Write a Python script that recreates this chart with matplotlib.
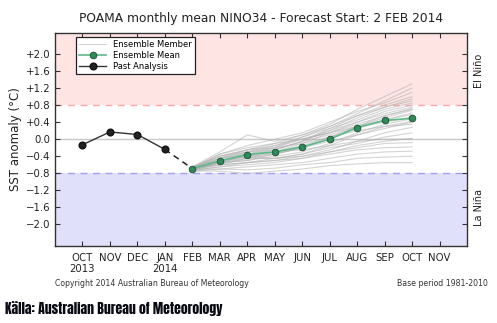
import matplotlib
matplotlib.use("Agg")
import matplotlib.pyplot as plt
from matplotlib.transforms import blended_transform_factory

# Month axis: Oct 2013 .. Nov 2014
month_labels = ["OCT\n2013", "NOV", "DEC", "JAN\n2014", "FEB", "MAR", "APR",
                "MAY", "JUN", "JUL", "AUG", "SEP", "OCT", "NOV"]
month_pos = list(range(len(month_labels)))

# Observed NINO34 anomalies (Oct 2013 - Jan 2014)
past_months = [0, 1, 2, 3]
past_values = [-0.13, 0.17, 0.11, -0.24]

# Forecast months (Feb - Oct 2014)
fc_months = [4, 5, 6, 7, 8, 9, 10, 11, 12]
ens_mean = [-0.69, -0.51, -0.36, -0.30, -0.18, 0.00, 0.27, 0.44, 0.49]

# Individual ensemble members
members = [
    [-0.66, -0.40, -0.25, -0.10, 0.10, 0.35, 0.70, 1.00, 1.30],
    [-0.70, -0.45, -0.30, -0.20, 0.05, 0.30, 0.60, 0.90, 1.20],
    [-0.68, -0.35, -0.15, 0.00, 0.15, 0.40, 0.65, 0.85, 1.10],
    [-0.72, -0.50, -0.40, -0.25, -0.05, 0.25, 0.55, 0.80, 1.00],
    [-0.65, -0.30, 0.10, -0.05, 0.10, 0.30, 0.55, 0.75, 0.95],
    [-0.70, -0.55, -0.35, -0.20, 0.00, 0.20, 0.50, 0.75, 0.90],
    [-0.68, -0.45, -0.25, -0.15, 0.05, 0.25, 0.45, 0.70, 0.85],
    [-0.74, -0.55, -0.45, -0.30, -0.10, 0.15, 0.40, 0.65, 0.80],
    [-0.66, -0.40, -0.30, -0.25, -0.05, 0.20, 0.40, 0.60, 0.75],
    [-0.70, -0.50, -0.30, -0.15, 0.00, 0.15, 0.35, 0.55, 0.70],
    [-0.72, -0.60, -0.45, -0.35, -0.20, 0.05, 0.30, 0.50, 0.68],
    [-0.68, -0.45, -0.35, -0.30, -0.15, 0.05, 0.25, 0.45, 0.62],
    [-0.70, -0.50, -0.40, -0.35, -0.20, 0.00, 0.30, 0.45, 0.58],
    [-0.66, -0.35, -0.20, -0.10, 0.00, 0.15, 0.30, 0.40, 0.52],
    [-0.70, -0.55, -0.50, -0.40, -0.30, -0.10, 0.15, 0.35, 0.48],
    [-0.72, -0.50, -0.40, -0.45, -0.35, -0.15, 0.10, 0.30, 0.42],
    [-0.68, -0.40, -0.25, -0.20, -0.10, 0.05, 0.20, 0.30, 0.35],
    [-0.70, -0.60, -0.55, -0.50, -0.40, -0.25, -0.05, 0.15, 0.28],
    [-0.74, -0.65, -0.55, -0.45, -0.35, -0.20, -0.10, 0.05, 0.15],
    [-0.70, -0.55, -0.40, -0.30, -0.25, -0.15, -0.05, 0.00, 0.00],
    [-0.68, -0.60, -0.55, -0.50, -0.45, -0.30, -0.20, -0.10, -0.08],
    [-0.72, -0.65, -0.60, -0.55, -0.45, -0.35, -0.25, -0.20, -0.18],
    [-0.76, -0.70, -0.65, -0.60, -0.55, -0.45, -0.35, -0.30, -0.28],
    [-0.70, -0.70, -0.72, -0.68, -0.60, -0.55, -0.45, -0.42, -0.40],
    [-0.74, -0.75, -0.80, -0.75, -0.70, -0.62, -0.58, -0.55, -0.55],
    [-0.66, -0.50, -0.45, -0.45, -0.40, -0.30, -0.15, -0.05, 0.02],
    [-0.72, -0.55, -0.50, -0.35, -0.20, -0.05, 0.10, 0.25, 0.40],
    [-0.68, -0.45, -0.35, -0.25, -0.05, 0.10, 0.30, 0.55, 0.72],
]

yticks = [2.0, 1.6, 1.2, 0.8, 0.4, 0.0, -0.4, -0.8, -1.2, -1.6, -2.0]
ytick_labels = ["+2.0", "+1.6", "+1.2", "+0.8", "+0.4", "0.0",
                "\u22120.4", "\u22120.8", "\u22121.2", "\u22121.6", "\u22122.0"]
threshold = 0.8

plt.rcParams["font.family"] = ["DejaVu Sans"]
fig = plt.figure(figsize=(4.97, 3.23), dpi=100)
ax = fig.add_axes([0.1107, 0.2393, 0.8289, 0.6595])

ax.set_xlim(-1, 14)
ax.set_ylim(-2.5, 2.5)

# El Nino / La Nina shading and thresholds
ax.axhspan(threshold, 2.5, color="#ffe4e4", zorder=0, lw=0)
ax.axhspan(-2.5, -threshold, color="#e0e0fb", zorder=0, lw=0)
ax.axhline(threshold, color="#ffa8a8", ls=(0, (5, 4)), lw=1.0, zorder=1)
ax.axhline(-threshold, color="#a0a0f0", ls=(0, (5, 4)), lw=1.0, zorder=1)
ax.axhline(0.0, color="#c8c8c8", lw=1.0, zorder=1)

# Ensemble members
for i, m in enumerate(members):
    ax.plot(fc_months, m, color="#b0b0b0", lw=0.8, alpha=0.55, zorder=2,
            label="Ensemble Member" if i == 0 else None)

# Link between last analysis and first forecast month
ax.plot([past_months[-1], fc_months[0]], [past_values[-1], ens_mean[0]],
        color="#222222", ls=(0, (4, 3)), lw=1.1, zorder=3)

ax.plot(fc_months, ens_mean, color="#5dba8a", lw=1.2, marker="o", ms=4.8,
        mfc="#2e8b57", mec="#1d4d33", mew=0.6, zorder=4, label="Ensemble Mean")
ax.plot(past_months, past_values, color="#333333", lw=1.0, marker="o", ms=4.8,
        mfc="#222222", mec="#111111", zorder=4, label="Past Analysis")

ax.set_xticks(month_pos)
ax.set_xticklabels(month_labels, fontsize=7.3, color="#222222")
ax.set_yticks(yticks)
ax.set_yticklabels(ytick_labels, fontsize=7.3, color="#222222")
ax.tick_params(direction="in", top=True, right=True, labelright=False,
               length=3.5, width=0.8, color="#333333", pad=3)
ax.tick_params(axis="x", pad=5)
for s in ax.spines.values():
    s.set_color("#333333")
    s.set_linewidth(1.0)

ax.set_ylabel("SST anomaly (\u00b0C)", fontsize=8.5, color="#222222", labelpad=3)
ax.set_title("POAMA monthly mean NINO34 - Forecast Start: 2 FEB 2014",
             fontsize=8.8, color="#222222", pad=8)

tr = blended_transform_factory(ax.transAxes, ax.transData)
ax.text(1.03, 1.6, "El Ni\u00f1o", rotation=90, ha="center", va="center",
        fontsize=7, transform=tr, color="#222222")
ax.text(1.03, -1.6, "La Ni\u00f1a", rotation=90, ha="center", va="center",
        fontsize=7, transform=tr, color="#222222")

leg = ax.legend(loc="upper left", bbox_to_anchor=(0.051, 0.98), fontsize=6.0,
                frameon=True, fancybox=False, borderpad=0.35, labelspacing=0.25,
                handlelength=3.3, handletextpad=0.8, borderaxespad=0)
leg.get_frame().set_edgecolor("#222222")
leg.get_frame().set_linewidth(0.9)
leg.get_frame().set_facecolor("white")
leg.get_frame().set_alpha(1)

fig.text(55 / 497, 1 - 283 / 323, "Copyright 2014 Australian Bureau of Meteorology",
         fontsize=5.6, color="#333333", ha="left", va="center")
fig.text(488 / 497, 1 - 283 / 323, "Base period 1981-2010",
         fontsize=5.6, color="#333333", ha="right", va="center")
fig.text(5 / 497, 1 - 309 / 323, "K\u00e4lla: Australian Bureau of Meteorology",
         fontsize=9.9, color="#0a0a14", ha="left", va="center",
         family=["Anton", "DejaVu Sans"])

fig.savefig("out.png", dpi=100)
